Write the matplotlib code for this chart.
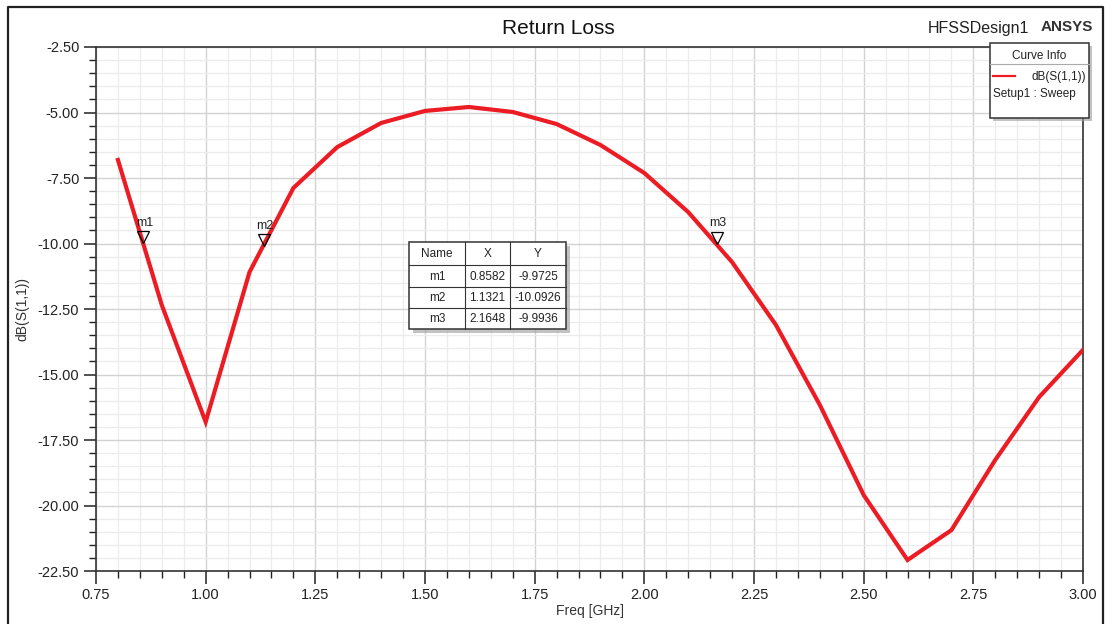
import matplotlib
matplotlib.use("Agg")
import matplotlib.pyplot as plt
from matplotlib.patches import Rectangle
from matplotlib.ticker import MultipleLocator, FormatStrFormatter
from matplotlib.lines import Line2D
from matplotlib.transforms import offset_copy

plt.rcParams['font.family'] = ['Liberation Sans', 'DejaVu Sans']

# Sweep data: frequency (GHz) and dB(S(1,1))
freq_ghz = [0.8, 0.9, 1.0, 1.1, 1.2, 1.3, 1.4, 1.5, 1.6, 1.7, 1.8, 1.9,
            2.0, 2.1, 2.2, 2.3, 2.4, 2.5, 2.6, 2.7, 2.8, 2.9, 3.0]
s11_db = [-6.81, -12.35, -16.81, -11.09, -7.88, -6.32, -5.40, -4.94, -4.79,
          -4.98, -5.44, -6.24, -7.31, -8.80, -10.71, -13.11, -16.16, -19.60,
          -22.08, -20.94, -18.26, -15.86, -14.06]

# Markers
marker_names = ["m1", "m2", "m3"]
marker_x = [0.8582, 1.1321, 2.1648]
marker_y = [-9.9725, -10.0926, -9.9936]

W, H = 1106, 624
fig = plt.figure(figsize=(W / 100, H / 100), dpi=100)
fig.patch.set_facecolor("white")

ax = fig.add_axes([96 / W, 1 - 571 / H, (1083 - 96) / W, (571 - 47) / H])
red = "#ec1c24"
ax.plot(freq_ghz, s11_db, color=red, lw=3.0, solid_joinstyle="miter", zorder=3)

ax.set_xlim(0.75, 3.0)
ax.set_ylim(-22.5, -2.5)
ax.xaxis.set_major_locator(MultipleLocator(0.25))
ax.xaxis.set_minor_locator(MultipleLocator(0.05))
ax.yaxis.set_major_locator(MultipleLocator(2.5))
ax.yaxis.set_minor_locator(MultipleLocator(0.5))
ax.xaxis.set_major_formatter(FormatStrFormatter("%.2f"))
ax.yaxis.set_major_formatter(FormatStrFormatter("%.2f"))
ax.grid(which="major", color="#d2d2d2", lw=1.0, zorder=0)
ax.grid(which="minor", color="#ececec", lw=0.9, zorder=0)
ax.set_axisbelow(True)
ax.tick_params(which="major", direction="out", length=9, width=1.1,
               labelsize=10.5, colors="#222222", pad=3)
ax.tick_params(which="minor", direction="out", length=5, width=1.0,
               colors="#222222")
ax.tick_params(axis="both", labelcolor="#222222")
for sp in ax.spines.values():
    sp.set_color("#333333")
    sp.set_linewidth(1.2)

ax.set_xlabel("Freq [GHz]", fontsize=10, color="#333333", labelpad=2)
ax.set_ylabel("dB(S(1,1))", fontsize=10, color="#333333", labelpad=6)

# Marker triangles (tip on the marked point) and their names
tri_tf = offset_copy(ax.transData, fig=fig, x=0, y=5.5, units="dots")
for name, mx, my in zip(marker_names, marker_x, marker_y):
    ax.plot([mx], [my], marker="v", markersize=8.5, markerfacecolor="none",
            markeredgecolor="black", markeredgewidth=0.9, zorder=4,
            transform=tri_tf)
    ax.annotate(name, (mx, my), xytext=(1, 10), textcoords="offset points",
                ha="center", va="bottom", fontsize=9, color="#222222",
                zorder=5)

# Pixel-space overlay for the frame, headers, legend and marker table
ov = fig.add_axes([0, 0, 1, 1], zorder=10)
ov.set_xlim(0, W)
ov.set_ylim(H, 0)
ov.axis("off")
ov.patch.set_alpha(0)

# outer frame
ov.add_line(Line2D([8, 8, 1103, 1103], [H, 7, 7, H], color="#222222", lw=1.6))

ov.text(558, 29, "Return Loss", ha="center", va="center", fontsize=15,
        color="#111111")
ov.text(928, 29, "HFSSDesign1", ha="left", va="center", fontsize=11.5,
        color="#222222")
ov.text(1041, 27, "ANSYS", ha="left", va="center", fontsize=11,
        fontweight="bold", color="#333333")

# Curve info box
bx0, by0, bx1, by1 = 990, 43, 1089, 118
ov.add_patch(Rectangle((bx0 + 3, by0 + 3), bx1 - bx0, by1 - by0,
                       facecolor="#9a9a9a", edgecolor="none", alpha=0.6))
ov.add_patch(Rectangle((bx0, by0), bx1 - bx0, by1 - by0,
                       facecolor="white", edgecolor="#333333", lw=1.1))
ov.text((bx0 + bx1) / 2, 56, "Curve Info", ha="center", va="center",
        fontsize=8.5, color="#222222")
ov.add_line(Line2D([bx0, bx1], [64, 64], color="#aaaaaa", lw=0.8))
ov.add_line(Line2D([993, 1015], [75.5, 75.5], color=red, lw=1.6))
ov.text(1086, 77, "dB(S(1,1))", ha="right", va="center", fontsize=8.5,
        color="#222222")
ov.text(993, 94, "Setup1 : Sweep", ha="left", va="center", fontsize=8.5,
        color="#222222")

# Marker table
tx = [409, 465, 510, 566]
ty = [242, 265, 287, 308, 329]
ov.add_patch(Rectangle((tx[0] + 4, ty[0] + 4), tx[-1] - tx[0], ty[-1] - ty[0],
                       facecolor="#9a9a9a", edgecolor="none", alpha=0.6))
ov.add_patch(Rectangle((tx[0], ty[0]), tx[-1] - tx[0], ty[-1] - ty[0],
                       facecolor="white", edgecolor="#333333", lw=1.1))
for x in tx[1:-1]:
    ov.add_line(Line2D([x, x], [ty[0], ty[-1]], color="#333333", lw=0.8))
for y in ty[1:-1]:
    ov.add_line(Line2D([tx[0], tx[-1]], [y, y], color="#333333", lw=0.8))
header = ["Name", "X", "Y"]
rows = [header] + [[n, f"{x:.4f}", f"{y:.4f}"]
                   for n, x, y in zip(marker_names, marker_x, marker_y)]
for r, row in enumerate(rows):
    for c, val in enumerate(row):
        ov.text((tx[c] + tx[c + 1]) / 2, (ty[r] + ty[r + 1]) / 2 + 0.5, val,
                ha="center", va="center", fontsize=8.5, color="#222222")

fig.savefig("out.png", dpi=100)
